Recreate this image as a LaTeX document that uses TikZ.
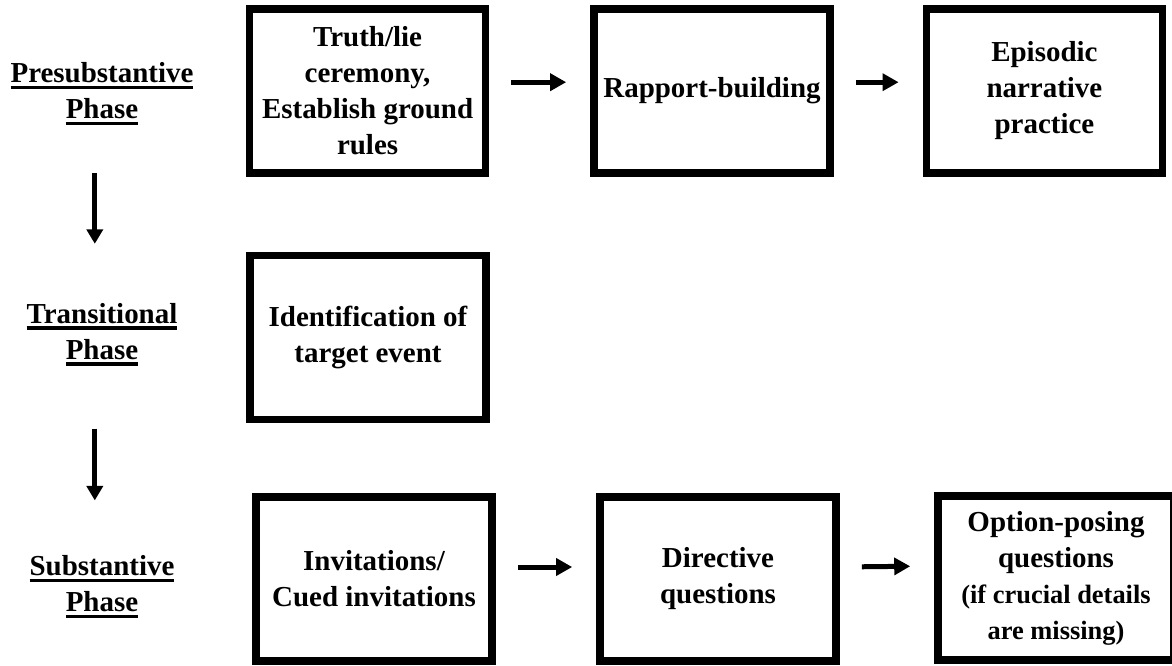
\documentclass[tikz,border=0pt]{standalone}
\usepackage{fontspec}
\setmainfont{Liberation Serif}
\usetikzlibrary{arrows.meta, positioning}
\newcommand{\phaseul}[1]{\setbox0\hbox{#1}\rlap{\rule[-4.4pt]{\wd0}{2.3pt}}\box0}
\newcommand{\smalltxt}{\fontsize{18.8}{24}\selectfont}

\begin{document}
\begin{tikzpicture}[
  stagebox/.style={draw, line width=0.19cm, minimum width=5.9cm, minimum height=4.1cm,
              inner sep=2pt, align=center, font=\fontsize{20.6}{25.6}\selectfont\bfseries},
  phase/.style={inner sep=0pt, align=center, font=\fontsize{20.6}{25.6}\selectfont\bfseries},
  harr/.style={-{Triangle[length=0.4cm, width=0.42cm]}, line width=0.125cm,
              shorten <=0.55cm, shorten >=0.6cm},
  varr/.style={-{Triangle[length=0.36cm, width=0.4cm]}, line width=0.12cm},
]
\useasboundingbox (0,0) rectangle (29.3,-16.625);

% Phase labels
\node[phase] (pre) at (2.55, -2.35) {\phaseul{Presubstantive}\\\phaseul{Phase}};
\node[phase] (trans) at (2.55, -8.36) {\phaseul{Transitional}\\\phaseul{Phase}};
\node[phase] (subs) at (2.55, -14.675) {\phaseul{Substantive}\\\phaseul{Phase}};

% Presubstantive row
\node[stagebox] (truth) at (9.19, -2.275) {Truth/lie\\ceremony,\\Establish ground\\rules};
\node[stagebox] (rapport) at (17.8, -2.275) {Rapport-building};
\node[stagebox] (episodic) at (26.11, -2.275) {Episodic\\narrative\\practice};

% Transitional row
\node[stagebox] (ident) at (9.2, -8.44) {Identification of\\target event};

% Substantive row
\node[stagebox] (invit) at (9.35, -14.475) {Invitations/\\Cued invitations};
\node[stagebox] (direct) at (17.95, -14.475) {Directive\\questions};
\node[stagebox] (option) at (26.4, -14.45) {Option-posing\\questions\\{\smalltxt (if crucial details}\\{\smalltxt are missing)}};

% Arrows
\draw[harr] ([yshift=0.22cm]truth.east) -- ([yshift=0.22cm]rapport.west);
\draw[harr] ([yshift=0.22cm]rapport.east) -- ([yshift=0.22cm]episodic.west);
\draw[harr] ([yshift=0.3cm]invit.east) -- ([yshift=0.3cm]direct.west);
\draw[harr] ([yshift=0.3cm]direct.east) -- ([yshift=0.3cm]option.west);

\draw[varr, shorten <=1.2cm, shorten >=1.48cm] ([xshift=-0.18cm]pre.south) -- ([xshift=-0.18cm]trans.north);
\draw[varr, shorten <=1.57cm, shorten >=1.38cm] ([xshift=-0.18cm]trans.south) -- ([xshift=-0.18cm]subs.north);
\end{tikzpicture}
\end{document}
